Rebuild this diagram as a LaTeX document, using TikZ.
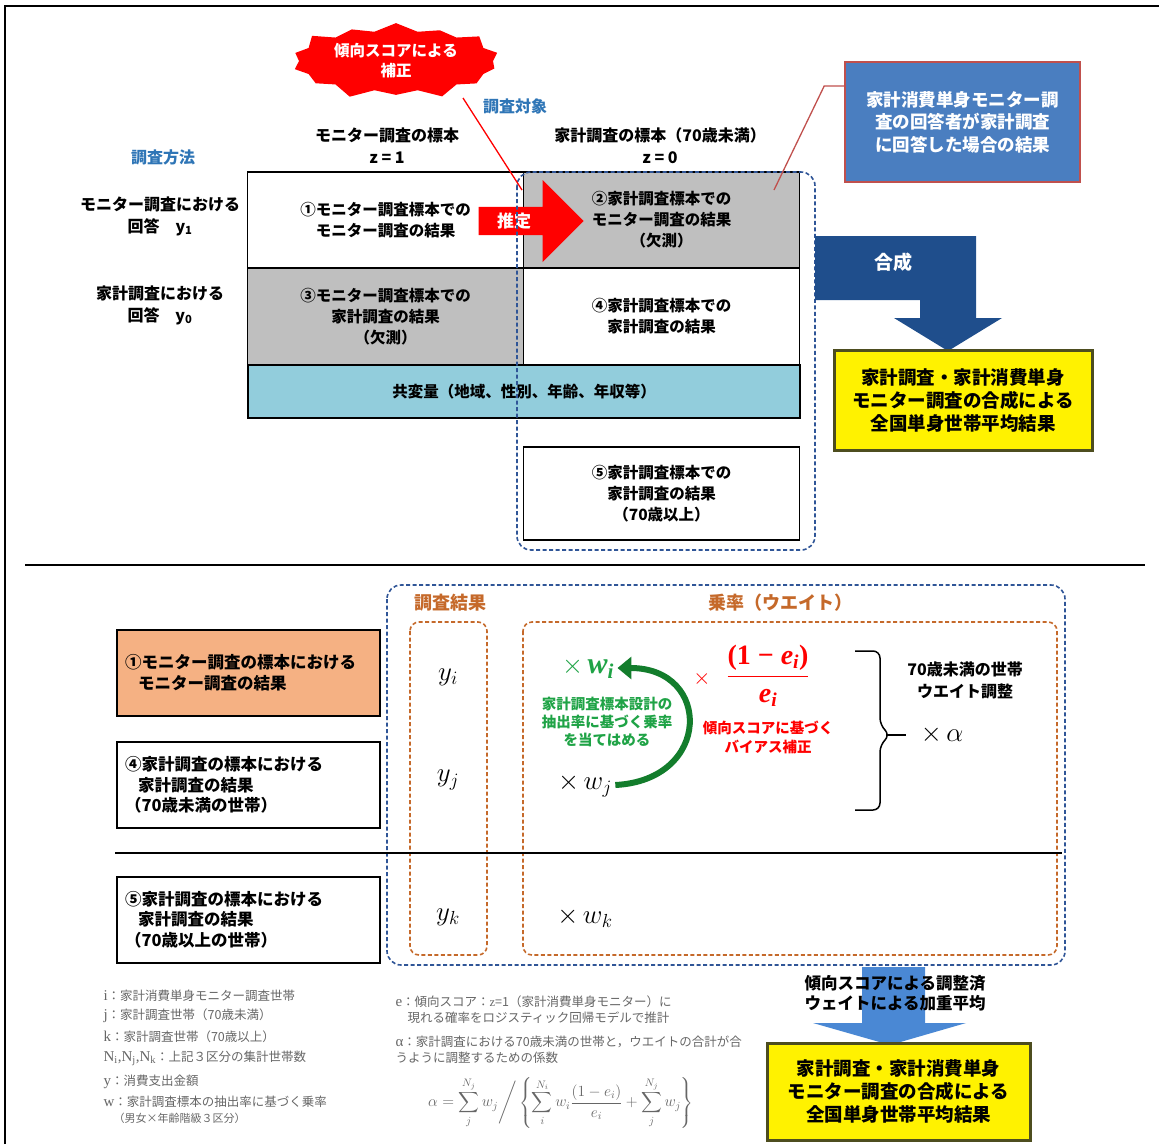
\RequirePackage{fix-cm}
\documentclass[tikz,border=0pt]{standalone}
\usepackage{amsmath}
\usepackage{fontspec}
\setmainfont{Noto Sans CJK JP}
\newfontfamily\serif{Liberation Serif}
\usepackage{tikz}
\usetikzlibrary{shapes.symbols,shapes.arrows,arrows.meta}

\definecolor{cellgray}{HTML}{BFBFBF}
\definecolor{covblue}{HTML}{92CDDC}
\definecolor{labblue}{HTML}{2E75B6}
\definecolor{frameblue}{HTML}{2F5597}
\definecolor{synblue}{HTML}{1F4E8C}
\definecolor{notefill}{HTML}{4A7EC0}
\definecolor{noteline}{HTML}{C0504D}
\definecolor{framebrown}{HTML}{C5692A}
\definecolor{rowfill}{HTML}{F5B183}
\definecolor{wgreen}{HTML}{1FA346}
\definecolor{agreen}{HTML}{137D2C}
\definecolor{adjblue}{HTML}{4A88D4}
\definecolor{resline}{HTML}{4D4D1F}
\definecolor{legendgray}{HTML}{666666}

\newcommand{\bvar}[2]{{\serif\bfseries\itshape #1\textsubscript{#2}}}

\tikzset{
  cell/.style={draw, line width=1.6pt, minimum width=276pt, minimum height=96.5pt,
    align=center, inner sep=0pt, font=\fontsize{15.5}{21}\selectfont\bfseries},
  head/.style={align=center, font=\fontsize{16}{22}\selectfont\bfseries},
  bluelab/.style={text=labblue, font=\fontsize{16}{20}\selectfont\bfseries},
  brownlab/.style={text=framebrown, font=\fontsize{18}{20}\selectfont\bfseries},
  rowbox/.style={draw, line width=2pt, minimum width=263pt, minimum height=86pt, inner sep=0pt,
    text width=247pt, align=left, font=\fontsize{16.5}{20.5}\selectfont\bfseries},
  resbox/.style={fill=yellow, draw=resline, line width=3pt, align=center, inner sep=0pt,
    font=\fontsize{18.5}{23}\selectfont\bfseries},
  hhframe/.style={draw=frameblue, line width=1.6pt, dash pattern=on 4pt off 2.5pt, rounded corners=14pt},
  wframe/.style={draw=framebrown, line width=1.6pt, dash pattern=on 4pt off 2.5pt, rounded corners=9pt},
  legend/.style={anchor=west, text=legendgray, align=left, font=\fontsize{12.5}{16}\selectfont},
  bigmath/.style={font=\fontsize{27}{30}\selectfont},
}

\begin{document}
\begin{tikzpicture}[x=1pt,y=-1pt]
  \useasboundingbox (0,0) rectangle (1159,1144);
  \draw[line width=2pt] (5,1144) -- (5,6) -- (1159,6);
  \draw[line width=2.5pt] (25,565) -- (1145,565);

  % upper panel
  \node[bluelab] (METH) at (163,157) {調査方法};
  \node[bluelab] (TGT) at (515,106) {調査対象};
  \node[head] (HMON) at (387,146) {モニター調査の標本\\z = 1};
  \node[head] (HHH) at (660,146) {家計調査の標本（70歳未満）\\z = 0};
  \node[head] (RMON) at (160,216) {モニター調査における\\回答\quad y\textsubscript{1}};
  \node[head] (RHH) at (160,305) {家計調査における\\回答\quad y\textsubscript{0}};

  \node[cell] (M1) at (385.5,220) {①モニター調査標本での\\モニター調査の結果};
  \node[cell, fill=cellgray] (M2) at (661.5,220) {②家計調査標本での\\モニター調査の結果\\（欠測）};
  \node[cell, fill=cellgray] (M3) at (385.5,316.5) {③モニター調査標本での\\家計調査の結果\\（欠測）};
  \node[cell] (M4) at (661.5,316.5) {④家計調査標本での\\家計調査の結果};
  \node[cell, fill=covblue, minimum width=552pt, minimum height=53pt] (COV) at (524,391.5) {共変量（地域、性別、年齢、年収等）};
  \node[cell, minimum height=93pt] (M5) at (661.5,493.5) {⑤家計調査標本での\\家計調査の結果\\（70歳以上）};

  \node[single arrow, fill=red, minimum height=105pt, minimum width=82pt, single arrow head extend=16pt,
    inner sep=0pt, text=white, font=\fontsize{17}{20}\selectfont\bfseries] (EST) at (524,221) {推定\hspace*{20pt}};
  \draw[hhframe] (517,172) rectangle (815,550);

  \node[starburst, fill=red, minimum width=216pt, minimum height=82pt, starburst points=14,
    starburst point height=11pt, inner sep=0pt, align=center, text=white,
    font=\fontsize{15.5}{20}\selectfont\bfseries] (PS) at (396,61) {傾向スコアによる\\補正};
  \coordinate (PSfoot) at (463,98);
  \coordinate (PStip) at (522,190);
  \draw[red, line width=1.3pt] (PSfoot) -- (PStip);

  \node[fill=notefill, draw=noteline, line width=1.6pt, minimum width=235pt, minimum height=120pt,
    inner sep=0pt, align=center, text=white, font=\fontsize{17.5}{22.5}\selectfont\bfseries] (NOTE) at (962.5,122)
    {家計消費単身モニター調\\査の回答者が家計調査\\に回答した場合の結果};
  \coordinate (M2tag) at (774,190);
  \draw[noteline, line width=1.3pt] ([yshift=36pt]NOTE.west) -- ++(-20,0) -- (M2tag);

  \fill[synblue] (815,236) -- (976,236) -- (976,318) -- (1002,318) -- (948,351) -- (894,318)
    -- (920,318) -- (920,300) -- (815,300) -- cycle;
  \node[text=white, font=\fontsize{19}{20}\selectfont\bfseries] (SYN) at (893,262) {合成};
  \node[resbox, minimum width=258pt, minimum height=100pt] (RES) at (963,400)
    {家計調査・家計消費単身\\モニター調査の合成による\\全国単身世帯平均結果};

  % lower panel
  \draw[hhframe] (387,585) rectangle (1065,965);
  \draw[wframe] (410,622) rectangle (487,955);
  \draw[wframe] (523,622) rectangle (1057,955);
  \node[brownlab] (RLAB) at (450,603) {調査結果};
  \node[brownlab] (WLAB) at (780,603) {乗率（ウエイト）};

  \node[rowbox, fill=rowfill] (R1) at (248.5,673) {①モニター調査の標本における\\\hspace*{13pt}モニター調査の結果};
  \node[rowbox] (R4) at (248.5,785) {④家計調査の標本における\\\hspace*{13pt}家計調査の結果\\（70歳未満の世帯）};
  \node[rowbox] (R5) at (248.5,919.5) {⑤家計調査の標本における\\\hspace*{13pt}家計調査の結果\\（70歳以上の世帯）};
  \draw[line width=2pt] (115,853) -- (1062,853);

  \node[bigmath] (YI) at (448,677) {$y_i$};
  \node[bigmath] (YJ) at (448,780) {$y_j$};
  \node[bigmath] (YK) at (448,917) {$y_k$};

  \node[bigmath, text=wgreen] (WI) at (588,668) {$\times$\,{\fontsize{30}{30}\selectfont\bvar{w}{i}}};
  \node[bigmath] (WJ) at (585,785) {$\times\,w_j$};
  \node[bigmath] (WK) at (585,918) {$\times\,w_k$};
  \draw[agreen, line width=6pt, -{Triangle[length=14pt,width=22pt]}]
    (WJ.east) .. controls (712,780) and (712,668) .. (WI.east);
  \node[text=wgreen, align=center, font=\fontsize{14.5}{18}\selectfont\bfseries] (WNOTE) at (607,722)
    {家計調査標本設計の\\抽出率に基づく乗率\\を当てはめる};

  \node[text=red, font=\fontsize{22}{24}\selectfont] (TIMES) at (702,679) {$\times$};
  \node[text=red, font=\fontsize{28}{30}\selectfont] (FRAC) at (768,676)
    {$\dfrac{\mbox{\serif\bfseries (1 − \bvar{e}{i})}}{\mbox{\bvar{e}{i}}}$};
  \node[text=red, align=center, font=\fontsize{14.5}{19}\selectfont\bfseries] (BIAS) at (768,737)
    {傾向スコアに基づく\\バイアス補正};

  % bracket to the weight adjustment
  \draw[line width=1.5pt, rounded corners=7pt] (855,651) -- (880,651) -- (880,725) -- (890,735)
    -- (880,745) -- (880,810) -- (855,810);
  \draw[line width=1.5pt] (886,735) -- (906,735);
  \node[bigmath] (ALPHA) at (942,735) {$\times\,\alpha$};
  \node[head] (ADJL) at (965,680) {70歳未満の世帯\\ウエイト調整};

  \fill[adjblue] (862,967) -- (925,967) -- (925,1023) -- (966,1023) -- (890,1045) -- (813,1023)
    -- (862,1023) -- cycle;
  \node[head, font=\fontsize{16.5}{20}\selectfont\bfseries] (ADJ) at (895,993)
    {傾向スコアによる調整済\\ウェイトによる加重平均};
  \node[resbox, minimum width=263pt, minimum height=97pt] (RES2) at (898.5,1091.5)
    {家計調査・家計消費単身\\モニター調査の合成による\\全国単身世帯平均結果};

  % legend
  \node[legend] (LI) at (100,996) {{\serif\fontsize{15}{16}\selectfont i}：家計消費単身モニター調査世帯};
  \node[legend] (LJ) at (100,1016) {{\serif\fontsize{15}{16}\selectfont j}：家計調査世帯（70歳未満）};
  \node[legend] (LK) at (100,1037) {{\serif\fontsize{15}{16}\selectfont k}：家計調査世帯（70歳以上）};
  \node[legend] (LN) at (100,1058) {{\serif\fontsize{15}{16}\selectfont N\textsubscript{i},N\textsubscript{j},N\textsubscript{k}}：上記３区分の集計世帯数};
  \node[legend] (LY) at (100,1082) {{\serif\fontsize{15}{16}\selectfont y}：消費支出金額};
  \node[legend] (LW) at (100,1110) {{\serif\fontsize{15}{16}\selectfont w}：家計調査標本の抽出率に基づく乗率\\\hspace*{10pt}{\fontsize{11}{12}\selectfont（男女×年齢階級３区分）}};

  \node[legend] (LE) at (392,1010) {{\serif\fontsize{15}{16}\selectfont e}：傾向スコア：{\serif z}=1（家計消費単身モニター）に\\\hspace*{12pt}現れる確率をロジスティック回帰モデルで推計};
  \node[legend] (LA) at (392,1050) {{\serif\fontsize{15}{16}\selectfont α}：家計調査における70歳未満の世帯と，ウエイトの合計が合\\うように調整するための係数};
  \node[text=legendgray, font=\fontsize{15.5}{16}\selectfont] (FORM) at (561,1103)
    {$\displaystyle \alpha=\sum_{j}^{N_j} w_j\Bigg/\left\{\sum_{i}^{N_i} w_i\frac{(1-e_i)}{e_i}+\sum_{j}^{N_j} w_j\right\}$};
\end{tikzpicture}
\end{document}
